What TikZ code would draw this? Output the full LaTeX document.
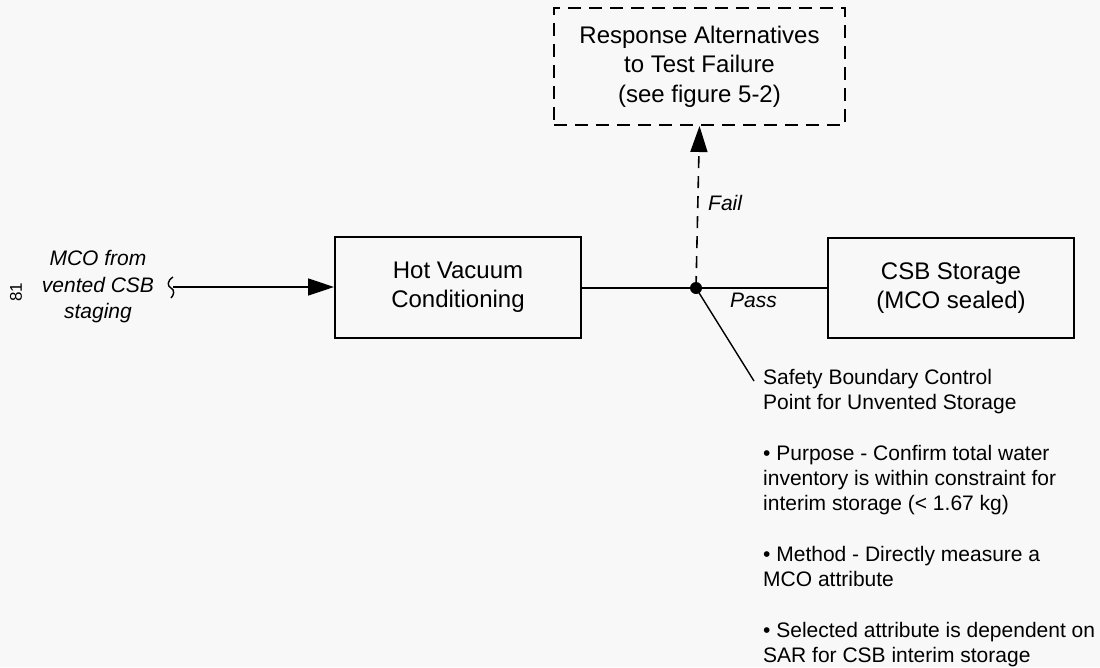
\documentclass[tikz,border=0pt]{standalone}
\usepackage{fontspec}
\setmainfont{Liberation Sans}
\usetikzlibrary{arrows.meta}

\tikzset{
  procbox/.style={draw, line width=2pt, fill=paper, align=center, inner sep=0pt,
                  font=\fontsize{24}{29.5}\selectfont},
  altbox/.style={procbox, dashed, dash pattern=on 13pt off 8pt},
  flow/.style={line width=1.6pt},
  flowarrow/.style={flow, -{Triangle[length=26pt,width=17pt]}},
  tag/.style={font=\fontsize{21}{25}\selectfont\itshape, inner sep=0pt},
  note/.style={font=\fontsize{21}{25.2}\selectfont, align=left, inner sep=0pt},
}
\definecolor{paper}{HTML}{F8F8F8}

\begin{document}
\begin{tikzpicture}[x=1pt,y=-1pt]
  % canvas
  \fill[paper] (0,0) rectangle (1100,667);
  \useasboundingbox (0,0) rectangle (1100,667);

  % process boxes
  \node[altbox, minimum width=291pt, minimum height=117pt] (resp) at (699.5,66.5)
    {Response Alternatives\\to Test Failure\\(see figure 5-2)};
  \node[procbox, minimum width=246pt, minimum height=101pt] (hvc) at (458,287)
    {Hot Vacuum\\Conditioning};
  \node[procbox, minimum width=246pt, minimum height=100pt] (csb) at (951,288)
    {CSB Storage\\(MCO sealed)};

  % incoming material
  \node[tag, align=center, font=\fontsize{21}{26.5}\selectfont\itshape] (src) at (98,287)
    {MCO from\\vented CSB\\staging};
  \node[font=\fontsize{17}{17}\selectfont, rotate=90, inner sep=0pt] (mark) at (16,292) {81};
  \coordinate (brk) at (173,287);
  \draw[line width=1.4pt] (173,277) .. controls (167,281) and (167,286) .. (171,288)
                          .. controls (175,290) and (174,295) .. (171,298);
  \draw[flowarrow] (brk) -- (hvc.west);

  % decision point
  \coordinate (dec) at (696,288);
  \draw[flow] (hvc.east |- dec) -- (dec) -- (csb.west |- dec);
  \fill (dec) circle (6pt);
  \draw[flowarrow, dash pattern=on 12pt off 8pt] (dec) -- (resp.south);
  \node[tag, anchor=west] (fail) at (708,203) {Fail};
  \node[tag, anchor=west] (pass) at (730,300) {Pass};

  % control point callout
  \coordinate (lead) at (754,381);
  \draw[line width=1.4pt] (dec) -- (lead);
  \node[note, anchor=north west] (ctrl) at (763,369)
    {Safety Boundary Control\\
     Point for Unvented Storage\\[25.5pt]
     \textbullet{} Purpose - Confirm total water\\
     inventory is within constraint for\\
     interim storage (< 1.67 kg)\\[25.5pt]
     \textbullet{} Method - Directly measure a\\
     MCO attribute\\[25.5pt]
     \textbullet{} Selected attribute is dependent on\\
     SAR for CSB interim storage};
\end{tikzpicture}
\end{document}
